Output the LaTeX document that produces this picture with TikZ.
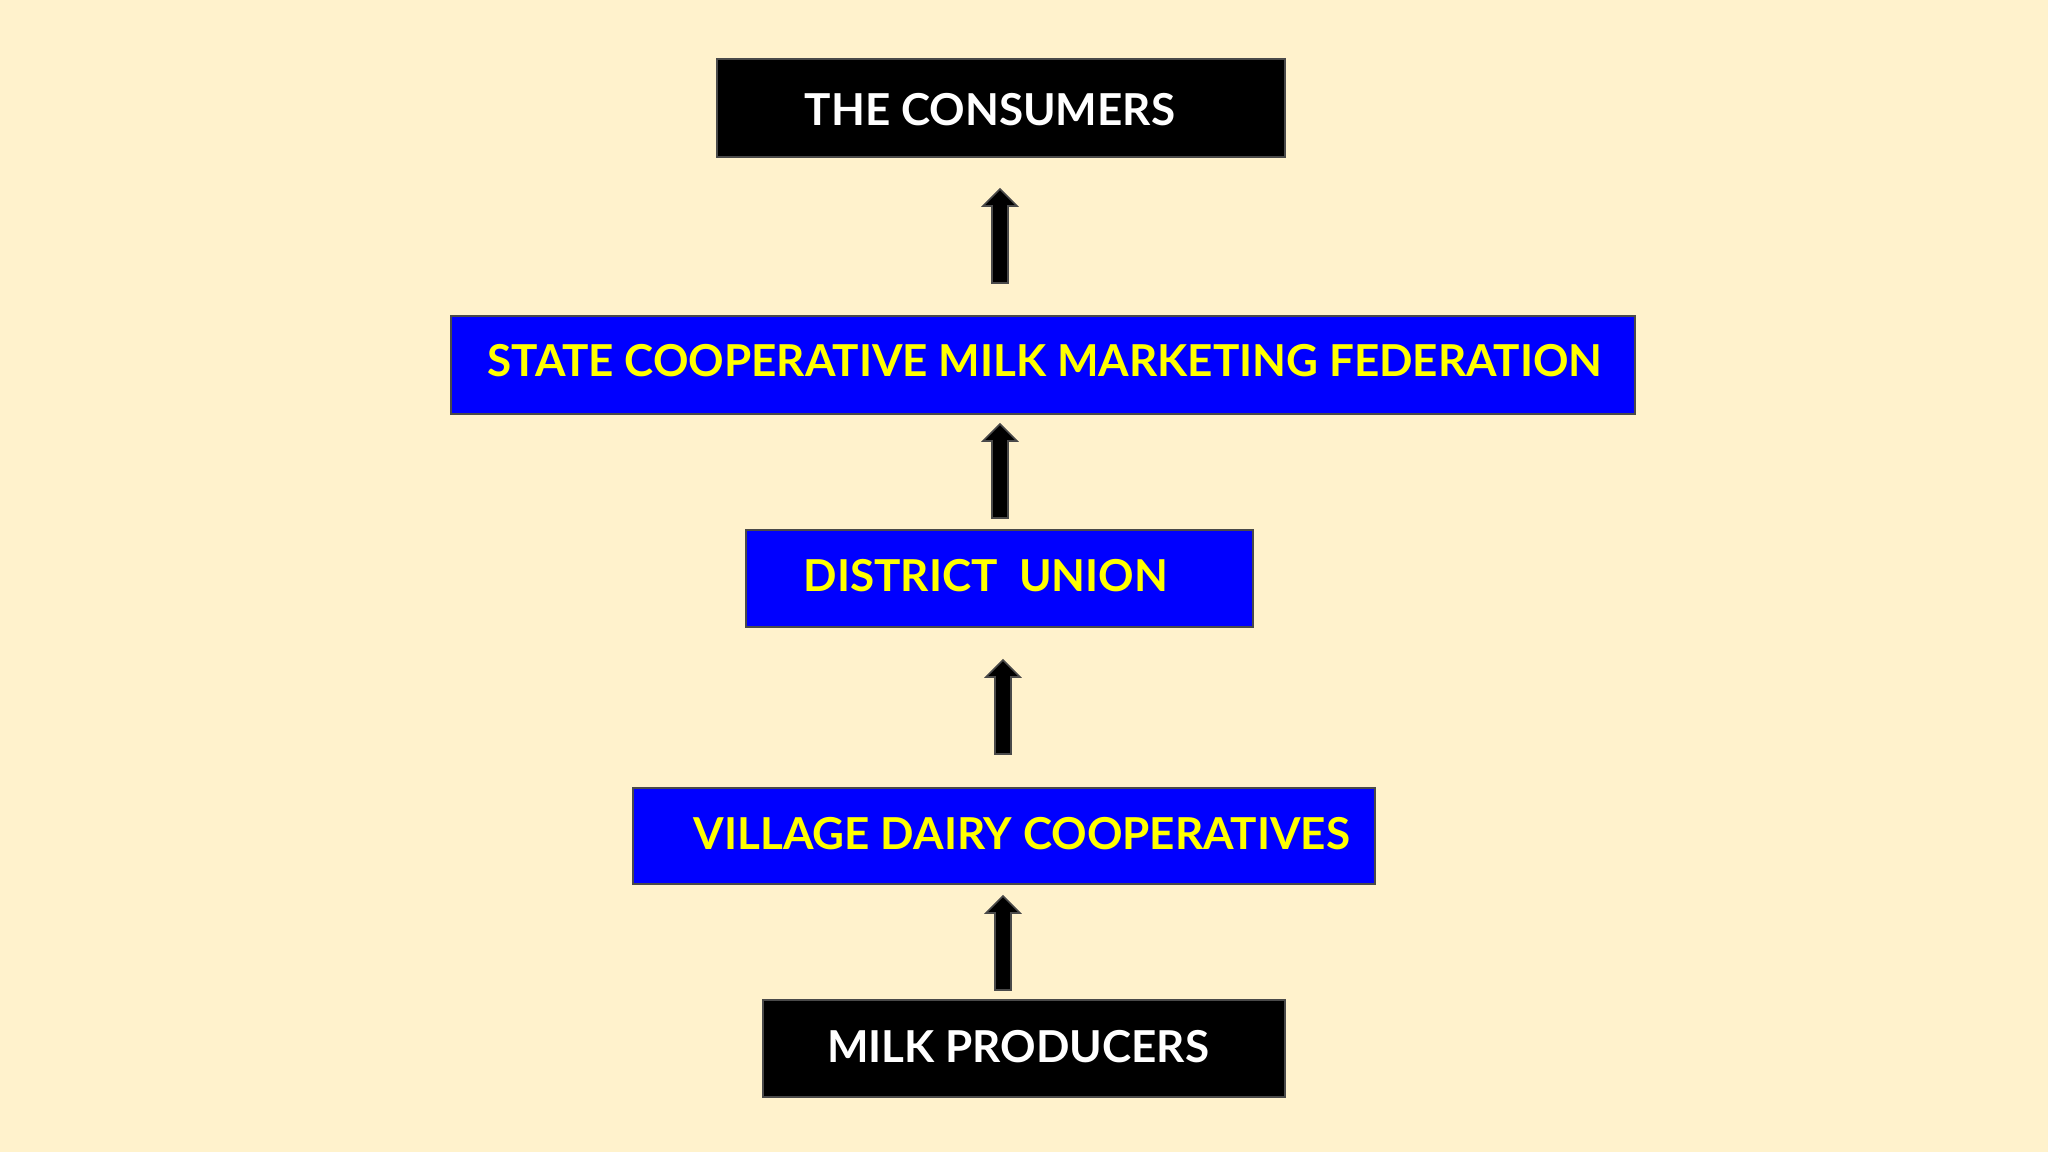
\documentclass[tikz,border=0pt]{standalone}
\usepackage{fontspec}
\setmainfont{Lato}
\usetikzlibrary{calc}
\definecolor{bgcream}{HTML}{FFF2CC}
\definecolor{boxblue}{HTML}{0000FF}
\definecolor{txtyellow}{HTML}{FFFF00}
\definecolor{edgegray}{HTML}{4A4A4A}
\newcommand\blockup[2]{%
  \draw[arrowbody] ($(#1)+(-8,0)$) -- ($(#2)+(-8,17)$) -- ($(#2)+(-17,17)$) -- (#2)
    -- ($(#2)+(17,17)$) -- ($(#2)+(8,17)$) -- ($(#1)+(8,0)$) -- cycle;}
\begin{document}
\begin{tikzpicture}[x=0.5pt,y=-0.5pt,
  boxbase/.style={draw=edgegray, line width=1pt, inner sep=0pt},
  blackbox/.style={boxbase, fill=black},
  bluebox/.style={boxbase, fill=boxblue},
  lbl/.style={font=\bfseries\fontsize{22}{26}\selectfont, inner sep=0pt, anchor=center},
  whitelbl/.style={lbl, text=white},
  yellowlbl/.style={lbl, text=txtyellow},
  arrowbody/.style={fill=black, draw=edgegray, line width=0.8pt, line join=miter}]
\fill[bgcream] (0,0) rectangle (2048,1152);
\useasboundingbox (0,0) rectangle (2048,1152);
% boxes
\node[blackbox, minimum width=284pt, minimum height=49pt] (cons) at (1001,108) {};
\node[bluebox, minimum width=592pt, minimum height=49pt] (state) at (1043,365) {};
\node[bluebox, minimum width=253.5pt, minimum height=48.5pt] (dist) at (999.5,578.5) {};
\node[bluebox, minimum width=371pt, minimum height=48pt] (vill) at (1004,836) {};
\node[blackbox, minimum width=261pt, minimum height=48.5pt] (prod) at (1024,1048.5) {};
% labels
\node[whitelbl] (consT) at (990,110) {THE CONSUMERS};
\node[yellowlbl] (stateT) at (1045,361) {STATE COOPERATIVE MILK MARKETING FEDERATION};
\node[yellowlbl] (distT) at (986,576) {DISTRICT\ \ UNION};
\node[yellowlbl] (villT) at (1022,834) {VILLAGE DAIRY COOPERATIVES};
\node[whitelbl] (prodT) at (1018,1047) {MILK PRODUCERS};
% arrows
\coordinate (a1b) at (1000,283); \coordinate (a1t) at (1000,189);
\coordinate (a2b) at (1000,518); \coordinate (a2t) at (1000,424);
\coordinate (a3b) at (1003,754); \coordinate (a3t) at (1003,660);
\coordinate (a4b) at (1003,990); \coordinate (a4t) at (1003,896);
\blockup{a1b}{a1t}
\blockup{a2b}{a2t}
\blockup{a3b}{a3t}
\blockup{a4b}{a4t}
\end{tikzpicture}
\end{document}
